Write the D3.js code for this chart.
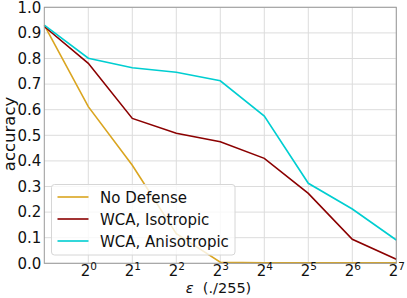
<!DOCTYPE html>
<html><head><meta charset="utf-8">
<script src="https://cdn.jsdelivr.net/npm/d3@7"></script>
<style>body{margin:0;background:#fff}svg{display:block;font-family:"DejaVu Sans",sans-serif}</style>
</head><body><svg id="c" width="407" height="298"></svg>
<script>
const exponents = [-1, 0, 1, 2, 3, 4, 5, 6, 7];
const noDefense = [0.93, 0.612, 0.383, 0.116, 0.004, 0.002, 0.002, 0.002, 0.002];
const wcaIso = [0.925, 0.781, 0.566, 0.508, 0.475, 0.41, 0.273, 0.094, 0.016];
const wcaAniso = [0.93, 0.801, 0.764, 0.746, 0.713, 0.575, 0.3125, 0.212, 0.091];
const xTickExps = [0, 1, 2, 3, 4, 5, 6, 7];
const yTicks = [0, 0.1, 0.2, 0.3, 0.4, 0.5, 0.6, 0.7, 0.8, 0.9, 1.0];
const seriesNames = ["No Defense", "WCA, Isotropic", "WCA, Anisotropic"];
const seriesColors = ["#DAA520", "#8B0000", "#00CED1"];
const seriesData = [noDefense, wcaIso, wcaAniso];

const svg = d3.select("#c");
const L = 44.3, R = 396.3, T = 7.3, B = 263.3;
const x = d3.scaleLog().base(2).domain([0.5, 128]).range([L, R]);
const y = d3.scaleLinear().domain([0, 1]).range([B, T]);

// grid
const g = svg.append("g");
g.selectAll("line.gx").data(xTickExps).enter().append("line")
  .attr("x1", d => x(Math.pow(2, d))).attr("x2", d => x(Math.pow(2, d)))
  .attr("y1", T).attr("y2", B).attr("stroke", "#dcdcdc").attr("stroke-width", 1);
g.selectAll("line.gy").data(yTicks).enter().append("line")
  .attr("x1", L).attr("x2", R).attr("y1", d => y(d)).attr("y2", d => y(d))
  .attr("stroke", "#dcdcdc").attr("stroke-width", 1);

// lines
const line = d3.line().x((d, i) => x(Math.pow(2, exponents[i]))).y(d => y(d));
seriesData.forEach((s, k) => {
  svg.append("path").datum(s).attr("d", line).attr("fill", "none")
    .attr("stroke", seriesColors[k]).attr("stroke-width", 1.6);
});

// spines
svg.append("rect").attr("x", L).attr("y", T).attr("width", R - L).attr("height", B - T)
  .attr("fill", "none").attr("stroke", "#9a9a9a").attr("stroke-width", 1);

// y axis
const ya = svg.append("g").attr("transform", `translate(${L},0)`)
  .call(d3.axisLeft(y).tickValues(yTicks).tickFormat(d3.format(".1f")).tickSize(0).tickPadding(3));
ya.select(".domain").remove();
ya.selectAll("text").attr("font-size", 15).attr("fill", "#111").attr("font-family", "DejaVu Sans");

// x axis
const xa = svg.append("g").attr("transform", `translate(0,${B})`)
  .call(d3.axisBottom(x).tickValues(xTickExps.map(e => Math.pow(2, e))).tickSize(0).tickFormat(""));
xa.select(".domain").remove();
xa.selectAll(".tick").each(function(d) {
  const t = d3.select(this).append("text").attr("y", 12.8).attr("text-anchor", "middle")
    .attr("fill", "#111").attr("font-family", "DejaVu Sans");
  t.append("tspan").attr("font-size", 15).text("2");
  t.append("tspan").attr("font-size", 10.5).attr("dy", -6.5).text(Math.round(Math.log2(d)));
});

// axis labels
const xl = svg.append("text").attr("x", 218.5).attr("y", 292.5).attr("text-anchor", "middle")
  .attr("font-size", 14.5).attr("fill", "#111");
xl.append("tspan").attr("font-style", "italic").text("ε");
xl.append("tspan").text("\u00a0\u00a0(./255)");
svg.append("text").attr("transform", "translate(14.5,134) rotate(-90)").attr("text-anchor", "middle")
  .attr("font-size", 16.5).attr("fill", "#111").text("accuracy");

// legend
const lg = svg.append("g");
lg.append("rect").attr("x", 51.5).attr("y", 184.5).attr("width", 183.5).attr("height", 70.5)
  .attr("rx", 3).attr("fill", "#fff").attr("fill-opacity", 0.8).attr("stroke", "#d6d6d6");
seriesNames.forEach((n, k) => {
  const yy = 197 + k * 22;
  lg.append("line").attr("x1", 57.5).attr("x2", 88.5).attr("y1", yy).attr("y2", yy)
    .attr("stroke", seriesColors[k]).attr("stroke-width", 1.6);
  lg.append("text").attr("x", 100).attr("y", yy + 5.5).attr("font-size", 15).attr("fill", "#111").text(n);
});
</script></body></html>
